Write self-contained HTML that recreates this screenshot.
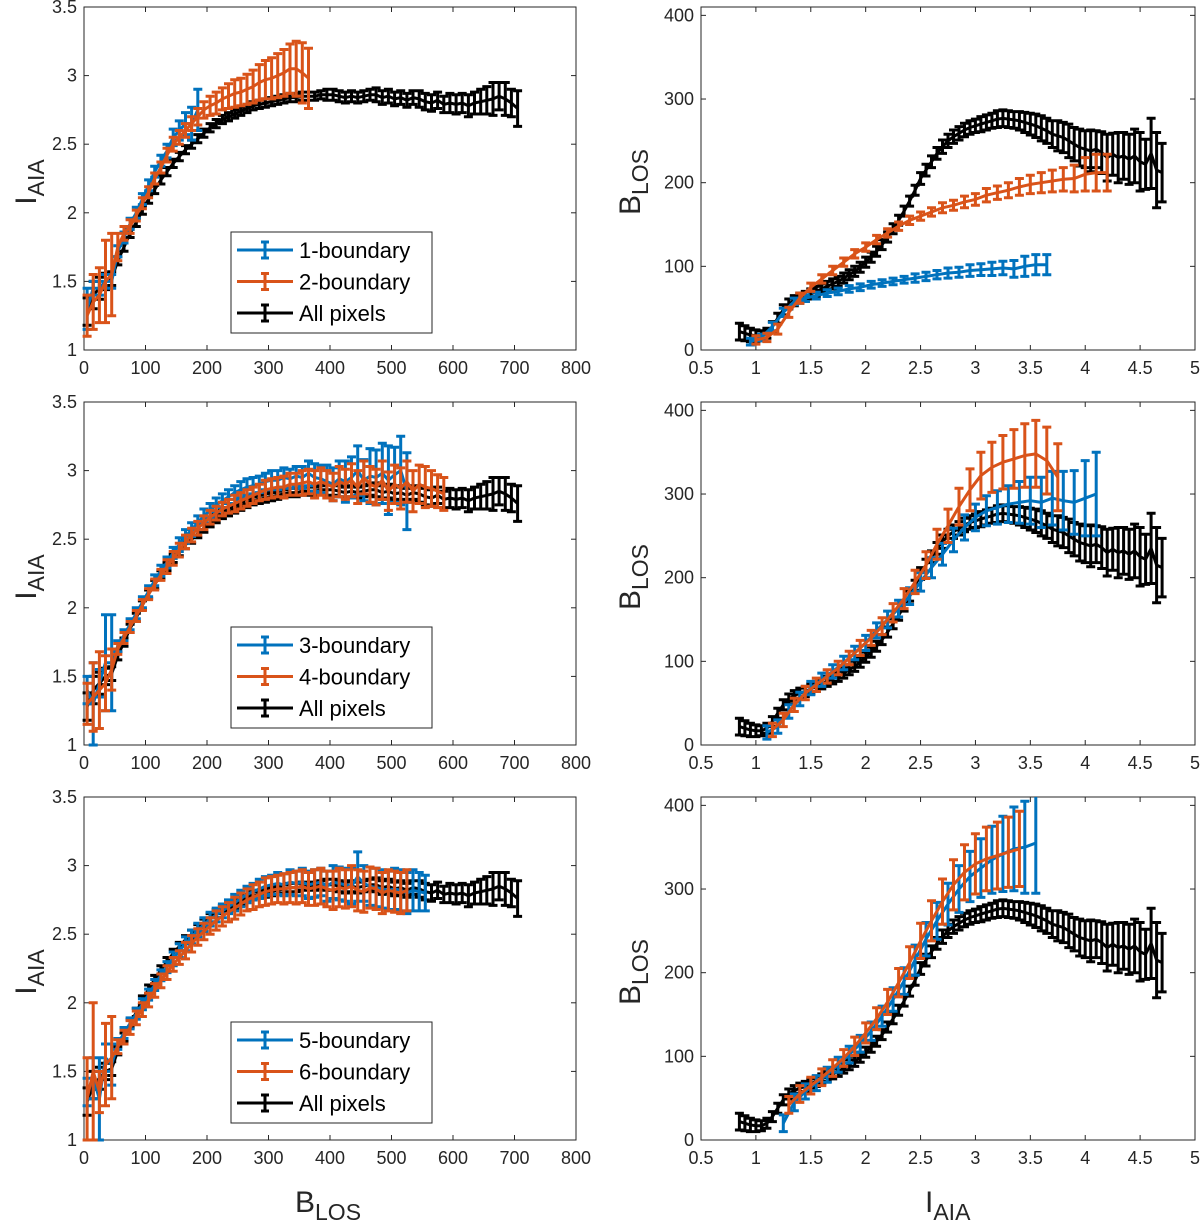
<!DOCTYPE html>
<html><head><meta charset="utf-8"><title>I_AIA vs B_LOS boundary comparison</title>
<style>
html,body{margin:0;padding:0;background:#fff;}
svg{display:block;font-family:"Liberation Sans",Arial,sans-serif;}
</style></head>
<body>
<svg id="fig" width="1200" height="1223" viewBox="0 0 1200 1223" xmlns="http://www.w3.org/2000/svg">
<rect x="0" y="0" width="1200" height="1223" fill="#fff"/>
<g id="panels"></g>
<text x="295" y="1212" font-size="30" fill="#262626">B<tspan font-size="23" dy="8">LOS</tspan></text>
<text x="925" y="1212" font-size="30" fill="#262626">I<tspan font-size="23" dy="8">AIA</tspan></text>
</svg>
<script>
// ===== Data: shared "All pixels" series =====
const blX=[5,15,25,35,45,55,65,75,85,95,105,115,125,135,145,155,165,175,185,195,205,215,225,235,245,255,265,275,285,295,305,315,325,335,345,355,365,375,385,395,405,415,425,435,445,455,465,475,485,495,505,515,525,535,545,555,565,575,585,595,605,615,625,635,645,655,665,675,685,695,705];
const blY=[1.28,1.4,1.45,1.5,1.52,1.65,1.75,1.85,1.93,2.02,2.1,2.17,2.24,2.3,2.36,2.41,2.46,2.5,2.54,2.58,2.62,2.65,2.68,2.7,2.72,2.74,2.76,2.78,2.79,2.8,2.81,2.82,2.83,2.84,2.84,2.85,2.85,2.85,2.86,2.86,2.86,2.85,2.84,2.85,2.84,2.85,2.86,2.86,2.84,2.85,2.83,2.84,2.82,2.84,2.83,2.81,2.8,2.82,2.79,2.8,2.79,2.8,2.78,2.8,2.81,2.82,2.83,2.85,2.83,2.8,2.76];
const blE=[0.1,0.1,0.08,0.06,0.05,0.03,0.03,0.03,0.03,0.03,0.03,0.03,0.03,0.03,0.03,0.03,0.03,0.03,0.03,0.03,0.03,0.03,0.03,0.03,0.03,0.03,0.03,0.03,0.03,0.03,0.03,0.03,0.03,0.03,0.03,0.03,0.03,0.03,0.03,0.04,0.04,0.04,0.04,0.04,0.04,0.04,0.04,0.05,0.05,0.05,0.05,0.05,0.05,0.05,0.06,0.06,0.06,0.06,0.06,0.07,0.07,0.07,0.08,0.08,0.09,0.1,0.12,0.1,0.12,0.1,0.13];

const brX=[0.85,0.9,0.95,1.0,1.05,1.1,1.15,1.2,1.25,1.3,1.35,1.4,1.45,1.5,1.55,1.6,1.65,1.7,1.75,1.8,1.85,1.9,1.95,2.0,2.05,2.1,2.15,2.2,2.25,2.3,2.35,2.4,2.45,2.5,2.55,2.6,2.65,2.7,2.75,2.8,2.85,2.9,2.95,3.0,3.05,3.1,3.15,3.2,3.25,3.3,3.35,3.4,3.45,3.5,3.55,3.6,3.65,3.7,3.75,3.8,3.85,3.9,3.95,4.0,4.05,4.1,4.15,4.2,4.25,4.3,4.35,4.4,4.45,4.5,4.55,4.6,4.65,4.7];
const brY=[22,20,18,17,17,20,28,38,48,55,59,62,64,67,70,73,76,79,82,86,90,94,99,105,111,118,126,135,145,155,166,178,191,205,215,225,235,243,250,255,259,263,266,268,270,272,274,276,277,276,275,274,272,270,268,265,262,258,256,254,250,246,242,240,238,240,236,230,234,230,232,228,232,225,222,235,215,212];
const brE=[10,9,8,7,6,6,6,6,6,6,6,6,6,6,6,6,6,6,6,6,6,6,6,6,6,6,6,6,6,6,6,6,6,7,7,7,7,8,8,8,8,8,8,8,9,9,9,10,10,10,10,11,12,13,14,15,15,16,18,18,20,20,22,22,25,22,25,28,25,30,28,30,32,35,30,42,45,35];

// ===== Row 1 =====
const b1X=[5,15,25,35,45,55,65,75,85,95,105,115,125,135,145,155,165,175,185];
const b1Y=[1.3,1.45,1.45,1.5,1.5,1.72,1.82,1.92,2.0,2.1,2.2,2.3,2.38,2.45,2.55,2.6,2.65,2.65,2.75];
const b1E=[0.15,0.05,0.05,0.05,0.05,0.04,0.04,0.04,0.04,0.04,0.04,0.04,0.04,0.05,0.06,0.07,0.08,0.12,0.15];
const o2X=[5,15,25,35,45,55,65,75,85,95,105,115,125,135,145,155,165,175,185,195,205,215,225,235,245,255,265,275,285,295,305,315,325,335,345,355,365];
const o2Y=[1.25,1.35,1.4,1.5,1.55,1.75,1.85,1.9,1.98,2.07,2.15,2.25,2.33,2.42,2.5,2.55,2.6,2.65,2.7,2.75,2.78,2.8,2.83,2.85,2.87,2.88,2.9,2.92,2.95,2.97,2.98,3.0,3.02,3.05,3.05,3.02,2.98];
const o2E=[0.15,0.2,0.2,0.3,0.3,0.1,0.05,0.05,0.04,0.04,0.04,0.04,0.04,0.05,0.05,0.05,0.05,0.05,0.06,0.06,0.07,0.08,0.08,0.09,0.1,0.1,0.11,0.12,0.13,0.14,0.15,0.16,0.17,0.18,0.2,0.22,0.22];
const rb1X=[0.95,1.05,1.15,1.25,1.35,1.45,1.55,1.65,1.75,1.85,1.95,2.05,2.15,2.25,2.35,2.45,2.55,2.65,2.75,2.85,2.95,3.05,3.15,3.25,3.35,3.45,3.55,3.65];
const rb1Y=[10,15,28,45,58,62,65,68,70,73,75,78,80,82,84,86,88,90,92,93,95,96,97,98,97,100,102,102];
const rb1E=[4,4,5,5,4,4,4,4,4,4,4,4,4,4,4,5,5,5,6,6,7,7,8,8,10,12,12,12];
const ro2X=[1.0,1.1,1.2,1.3,1.4,1.5,1.6,1.7,1.8,1.9,2.0,2.1,2.2,2.3,2.4,2.5,2.6,2.7,2.8,2.9,3.0,3.1,3.2,3.3,3.4,3.5,3.6,3.7,3.8,3.9,4.0,4.1,4.2];
const ro2Y=[12,15,25,45,62,75,85,95,105,115,123,132,140,148,155,160,165,170,173,177,180,185,188,191,195,198,200,202,204,205,210,212,212];
const ro2E=[5,5,6,6,6,5,5,5,5,5,5,5,5,5,5,5,5,6,6,7,7,8,8,9,10,11,12,13,14,16,20,22,22];

// ===== Row 2 =====
const b3X=[5,15,25,35,45,55,65,75,85,95,105,115,125,135,145,155,165,175,185,195,205,215,225,235,245,255,265,275,285,295,305,315,325,335,345,355,365,375,385,395,405,415,425,435,445,455,465,475,485,495,505,515,525];
const b3Y=[1.4,1.3,1.45,1.6,1.6,1.72,1.8,1.88,1.96,2.04,2.12,2.2,2.27,2.33,2.4,2.46,2.52,2.57,2.62,2.67,2.71,2.75,2.78,2.81,2.84,2.86,2.88,2.89,2.9,2.92,2.93,2.93,2.95,2.94,2.96,2.95,2.98,2.95,2.94,2.92,2.9,2.94,2.92,2.95,3.0,2.93,2.96,2.95,2.98,2.93,2.97,3.0,2.85];
const b3E=[0.1,0.3,0.1,0.35,0.35,0.04,0.04,0.04,0.04,0.04,0.04,0.04,0.04,0.04,0.04,0.05,0.05,0.05,0.05,0.05,0.05,0.05,0.05,0.05,0.05,0.06,0.06,0.06,0.06,0.06,0.07,0.07,0.07,0.07,0.07,0.08,0.09,0.1,0.1,0.12,0.12,0.13,0.15,0.15,0.18,0.15,0.2,0.2,0.22,0.25,0.2,0.25,0.28];
const o4X=[5,15,25,35,45,55,65,75,85,95,105,115,125,135,145,155,165,175,185,195,205,215,225,235,245,255,265,275,285,295,305,315,325,335,345,355,365,375,385,395,405,415,425,435,445,455,465,475,485,495,505,515,525,535,545,555,565,575,585];
const o4Y=[1.3,1.35,1.4,1.45,1.55,1.7,1.78,1.86,1.94,2.02,2.1,2.17,2.24,2.3,2.36,2.42,2.48,2.53,2.58,2.62,2.66,2.69,2.72,2.74,2.76,2.78,2.8,2.82,2.84,2.86,2.87,2.88,2.88,2.9,2.9,2.91,2.92,2.9,2.92,2.9,2.88,2.92,2.9,2.93,2.88,2.95,2.9,2.88,2.93,2.85,2.9,2.87,2.92,2.85,2.9,2.88,2.87,2.85,2.83];
const o4E=[0.15,0.25,0.28,0.2,0.15,0.04,0.04,0.04,0.04,0.04,0.04,0.04,0.04,0.05,0.05,0.05,0.05,0.05,0.05,0.05,0.05,0.05,0.05,0.05,0.06,0.06,0.06,0.06,0.06,0.07,0.07,0.07,0.08,0.08,0.08,0.09,0.09,0.1,0.1,0.1,0.1,0.11,0.11,0.12,0.12,0.12,0.13,0.13,0.14,0.14,0.14,0.15,0.15,0.15,0.14,0.15,0.13,0.12,0.12];
const rb3X=[1.1,1.2,1.3,1.4,1.5,1.6,1.7,1.8,1.9,2.0,2.1,2.2,2.3,2.4,2.5,2.6,2.7,2.8,2.9,3.0,3.1,3.2,3.3,3.4,3.5,3.6,3.7,3.8,3.9,4.0,4.1];
const rb3Y=[15,22,40,55,68,78,88,98,110,122,137,150,163,178,195,212,228,245,260,272,280,284,288,290,292,290,295,292,290,295,300];
const rb3E=[8,8,8,8,8,8,8,8,8,9,9,10,10,10,11,12,13,14,15,16,18,20,22,25,28,30,32,35,38,45,50];
const ro4X=[1.15,1.25,1.35,1.45,1.55,1.65,1.75,1.85,1.95,2.05,2.15,2.25,2.35,2.45,2.55,2.65,2.75,2.85,2.95,3.05,3.15,3.25,3.35,3.45,3.55,3.65,3.75];
const ro4Y=[18,30,48,62,72,82,92,104,116,128,142,158,175,195,215,240,262,285,305,322,332,338,342,346,348,340,320];
const ro4E=[8,8,8,8,8,8,8,8,9,9,10,11,12,14,16,18,20,22,25,28,30,32,35,38,40,40,40];

// ===== Row 3 =====
const b5X=[5,15,25,35,45,55,65,75,85,95,105,115,125,135,145,155,165,175,185,195,205,215,225,235,245,255,265,275,285,295,305,315,325,335,345,355,365,375,385,395,405,415,425,435,445,455,465,475,485,495,505,515,525,535,545,555];
const b5Y=[1.35,1.45,1.3,1.6,1.55,1.7,1.78,1.85,1.92,1.99,2.06,2.13,2.2,2.26,2.32,2.38,2.43,2.48,2.53,2.57,2.61,2.64,2.67,2.7,2.73,2.76,2.79,2.81,2.83,2.85,2.86,2.87,2.86,2.88,2.87,2.88,2.86,2.87,2.88,2.85,2.88,2.87,2.86,2.85,2.92,2.87,2.85,2.84,2.83,2.82,2.83,2.82,2.8,2.82,2.81,2.8];
const b5E=[0.1,0.15,0.3,0.1,0.15,0.04,0.04,0.04,0.04,0.04,0.04,0.04,0.04,0.04,0.05,0.05,0.05,0.05,0.05,0.05,0.05,0.05,0.05,0.05,0.06,0.06,0.06,0.06,0.07,0.07,0.07,0.08,0.08,0.09,0.09,0.1,0.1,0.1,0.1,0.11,0.12,0.12,0.12,0.13,0.18,0.13,0.14,0.14,0.14,0.14,0.15,0.15,0.15,0.15,0.14,0.13];
const o6X=[5,15,25,35,45,55,65,75,85,95,105,115,125,135,145,155,165,175,185,195,205,215,225,235,245,255,265,275,285,295,305,315,325,335,345,355,365,375,385,395,405,415,425,435,445,455,465,475,485,495,505,515,525];
const o6Y=[1.3,1.5,1.35,1.55,1.6,1.68,1.75,1.82,1.89,1.95,2.02,2.09,2.16,2.22,2.28,2.33,2.38,2.43,2.48,2.52,2.56,2.6,2.63,2.66,2.69,2.72,2.75,2.77,2.79,2.81,2.82,2.83,2.83,2.84,2.84,2.85,2.83,2.84,2.85,2.83,2.82,2.84,2.83,2.85,2.82,2.81,2.84,2.83,2.8,2.82,2.81,2.8,2.82];
const o6E=[0.3,0.5,0.15,0.3,0.3,0.05,0.05,0.05,0.05,0.05,0.05,0.05,0.05,0.05,0.05,0.05,0.06,0.06,0.06,0.06,0.06,0.07,0.07,0.07,0.08,0.08,0.08,0.09,0.09,0.1,0.1,0.1,0.11,0.11,0.12,0.12,0.12,0.13,0.13,0.13,0.14,0.14,0.14,0.15,0.15,0.15,0.15,0.15,0.15,0.15,0.15,0.15,0.15];
const rb5X=[1.25,1.35,1.45,1.55,1.65,1.75,1.85,1.95,2.05,2.15,2.25,2.35,2.45,2.55,2.65,2.75,2.85,2.95,3.05,3.15,3.25,3.35,3.45,3.55];
const rb5Y=[20,45,58,68,78,90,102,115,130,148,168,190,215,240,262,282,300,315,325,335,342,348,350,355];
const rb5E=[10,10,9,9,9,9,10,10,11,12,14,16,18,20,22,25,28,30,35,40,45,50,55,60];
const ro6X=[1.3,1.4,1.5,1.6,1.7,1.8,1.9,2.0,2.1,2.2,2.3,2.4,2.5,2.6,2.7,2.8,2.9,3.0,3.1,3.2,3.3,3.4];
const ro6Y=[42,55,65,75,86,98,112,128,145,165,188,212,238,262,285,305,320,330,336,340,344,348];
const ro6E=[10,10,10,10,10,10,11,12,13,15,17,19,21,24,27,30,33,36,38,40,42,45];

// ===== Axis ticks =====
const leftXTicks=[0,100,200,300,400,500,600,700,800];
const leftYTicks=[1,1.5,2,2.5,3,3.5];
const rightXTicks=[0.5,1,1.5,2,2.5,3,3.5,4,4.5,5];
const rightYTicks=[0,100,200,300,400];
const legendNames=[["1-boundary","2-boundary"],["3-boundary","4-boundary"],["5-boundary","6-boundary"]];

const BLUE="#0072BD", ORANGE="#D95319", BLACK="#000000", AX="#262626";
const NS="http://www.w3.org/2000/svg";
const root=document.getElementById('panels');
function el(tag,attrs,parent){const e=document.createElementNS(NS,tag);for(const k in attrs)e.setAttribute(k,attrs[k]);(parent||root).appendChild(e);return e;}

const rowTops=[7,402,797], H=343;
const L={x0:84,x1:576,min:0,max:800,ymin:1,ymax:3.5};
const R={x0:701,x1:1195,min:0.5,max:5,ymin:0,ymax:410};
const SW=3;

function makeAxes(cfg,top,name){
  const sx=v=>cfg.x0+(v-cfg.min)/(cfg.max-cfg.min)*(cfg.x1-cfg.x0);
  const sy=v=>top+H-(v-cfg.ymin)/(cfg.ymax-cfg.ymin)*H;
  const g=el('g',{});
  
  
  return {sx,sy,g};
}

function drawFrame(ax,cfg,top,xt,yt){
  const g=ax.g;
  const r=el('rect',{x:cfg.x0,y:top,width:cfg.x1-cfg.x0,height:H,fill:'none',stroke:AX,'stroke-width':1},g);
  
  
  xt.forEach(v=>{
    const x=ax.sx(v);
    el('line',{x1:x,x2:x,y1:top+H,y2:top+H-5,stroke:AX,'stroke-width':1},g);
    el('line',{x1:x,x2:x,y1:top,y2:top+5,stroke:AX,'stroke-width':1},g);
    const t=el('text',{x:x,y:top+H+24,'font-size':18,'text-anchor':'middle',fill:AX},g);
    
    
    t.textContent=String(v);
  });
  yt.forEach(v=>{
    const y=ax.sy(v);
    if(y<top-1)return;
    el('line',{x1:cfg.x0,x2:cfg.x0+5,y1:y,y2:y,stroke:AX,'stroke-width':1},g);
    el('line',{x1:cfg.x1,x2:cfg.x1-5,y1:y,y2:y,stroke:AX,'stroke-width':1},g);
    const t=el('text',{x:cfg.x0-7,y:y+6,'font-size':18,'text-anchor':'end',fill:AX},g);
    
    
    t.textContent=String(v);
  });
}

function drawSeries(ax,xs,ys,es,color,name){
  const g=el('g',{},ax.g);
  
  
  const pts=xs.map((x,i)=>ax.sx(x).toFixed(1)+','+ax.sy(ys[i]).toFixed(1)).join(' ');
  el('polyline',{points:pts,fill:'none',stroke:color,'stroke-width':SW,'stroke-linejoin':'round'},g);
  let d='';
  xs.forEach((x,i)=>{
    const px=ax.sx(x), y1=ax.sy(ys[i]-es[i]), y2=ax.sy(ys[i]+es[i]);
    d+=`M${px.toFixed(1)},${y1.toFixed(1)}V${y2.toFixed(1)}M${(px-4.5).toFixed(1)},${y1.toFixed(1)}H${(px+4.5).toFixed(1)}M${(px-4.5).toFixed(1)},${y2.toFixed(1)}H${(px+4.5).toFixed(1)}`;
  });
  el('path',{d:d,fill:'none',stroke:color,'stroke-width':SW},g);
}

function drawLegend(g,top,names){
  const lg=el('g',{},g);
  
  
  el('rect',{x:231,y:top+225,width:201,height:101,fill:'#fff',stroke:AX,'stroke-width':1},lg);
  const items=[[names[0],BLUE],[names[1],ORANGE],["All pixels",BLACK]];
  items.forEach((it,i)=>{
    const y=top+243+i*31.5;
    const e=el('g',{},lg);
    
    
    el('path',{d:`M237,${y}H293M265,${y-8}V${y+8}M261,${y-8}H269M261,${y+8}H269`,stroke:it[1],'stroke-width':3,fill:'none'},e);
    const t=el('text',{x:299,y:y+8,'font-size':22,fill:'#000'},e);
    t.textContent=it[0];
  });
}

function yLabel(x,cy,main,sub,name){
  const t=el('text',{transform:`translate(${x},${cy}) rotate(-90)`,'font-size':30,'text-anchor':'middle',fill:AX});
  
  
  const a=el('tspan',{},t);a.textContent=main;
  const b=el('tspan',{'font-size':23,dy:8},t);b.textContent=sub;
}

const leftSets=[[b1X,b1Y,b1E,o2X,o2Y,o2E],[b3X,b3Y,b3E,o4X,o4Y,o4E],[b5X,b5Y,b5E,o6X,o6Y,o6E]];
const rightSets=[[rb1X,rb1Y,rb1E,ro2X,ro2Y,ro2E],[rb3X,rb3Y,rb3E,ro4X,ro4Y,ro4E],[rb5X,rb5Y,rb5E,ro6X,ro6Y,ro6E]];

rowTops.forEach((top,r)=>{
  const la=makeAxes(L,top,'left-panel-row'+(r+1));
  drawFrame(la,L,top,leftXTicks,leftYTicks);
  const s=leftSets[r];
  drawSeries(la,blX,blY,blE,BLACK,'series-all-pixels');
  drawSeries(la,s[0],s[1],s[2],BLUE,'series-'+legendNames[r][0]);
  drawSeries(la,s[3],s[4],s[5],ORANGE,'series-'+legendNames[r][1]);
  drawLegend(la.g,top,legendNames[r]);
  yLabel(36,top+175,'I','AIA','y-axis-title-left');
  const ra=makeAxes(R,top,'right-panel-row'+(r+1));
  const clip=el('clipPath',{id:'clip'+r},ra.g);
  el('rect',{x:R.x0,y:top,width:R.x1-R.x0,height:H},clip);
  drawFrame(ra,R,top,rightXTicks,rightYTicks);
  const rs=rightSets[r];
  const cg=el('g',{'clip-path':`url(#clip${r})`},ra.g);
  const rac={sx:ra.sx,sy:ra.sy,g:cg};
  drawSeries(rac,brX,brY,brE,BLACK,'series-all-pixels');
  drawSeries(rac,rs[0],rs[1],rs[2],BLUE,'series-'+legendNames[r][0]);
  drawSeries(rac,rs[3],rs[4],rs[5],ORANGE,'series-'+legendNames[r][1]);
  yLabel(640,top+175,'B','LOS','y-axis-title-right');
});
</script>
</body></html>
